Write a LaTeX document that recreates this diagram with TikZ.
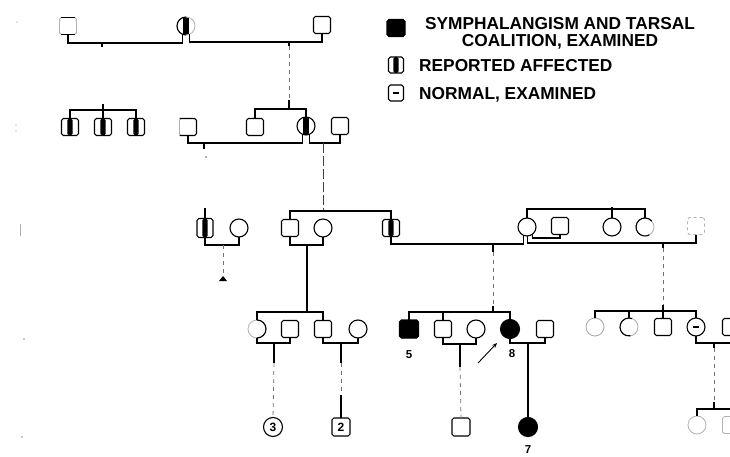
\documentclass[tikz,border=0pt]{standalone}
\usepackage{fontspec}
\setmainfont{Liberation Sans}
\usetikzlibrary{arrows.meta}
\begin{document}
\begin{tikzpicture}[x=1pt,y=-1pt,
  sym/.style={draw, line width=1.1pt, inner sep=0pt, outer sep=0pt},
  sq/.style={sym, rectangle, rounded corners=1.8pt, minimum width=17pt, minimum height=17pt},
  ci/.style={sym, circle, minimum size=18pt},
  aff/.style={fill=black},
  rep/.style={path picture={\fill[black] ([xshift=-2.6pt]path picture bounding box.south) rectangle ([xshift=2.6pt]path picture bounding box.north);}},
  normex/.style={path picture={\draw[line width=1.1pt] ([xshift=-3pt]path picture bounding box.center) -- ([xshift=3pt]path picture bounding box.center);}},
  ghost/.style={draw=black!30, line width=0.8pt},
  ln/.style={line width=1.1pt},
  faint/.style={line width=0.8pt, black!55, dash pattern=on 4pt off 4pt},
  num/.style={font=\bfseries\fontsize{11.5}{12}\selectfont, inner sep=0pt},
  inum/.style={font=\bfseries\fontsize{12}{12}\selectfont},
  leg/.style={font=\bfseries\fontsize{17.3}{17}\selectfont, inner sep=0pt},
  gdot/.style={fill=black!40}
]
\clip (0,0) rectangle (730,457);
\fill[white] (0,0) rectangle (730,457);

% faint generation marks
\fill[gdot] (17,22) circle (0.7pt);
\fill[gdot] (16,125) circle (0.6pt);
\fill[gdot] (16,131) circle (0.6pt);
\draw[black!30, line width=0.7pt] (20,224) -- (20,236);
\fill[gdot] (24,339) circle (0.8pt);
\fill[gdot] (22,437) circle (0.8pt);

% ---------- Generation I ----------
\node[sq, ghost] (i1) at (68,26) {};
\draw[ln] ([xshift=1.5pt]i1.north west) -- ([xshift=-1.5pt]i1.north east);
\draw[ln] ([xshift=1.5pt]i1.south west) -- ([xshift=-1.5pt]i1.south east);
\node[ci, ghost, rep] (i2) at (186,26) {};
\draw[ln] (i2.90) arc[start angle=90, end angle=270, radius=9pt];
\node[sq] (i3) at (322,25) {};
\draw[ln] (i1.south) |- (150,43) -| (i2.250);
\draw[ln] (i2.295) |- (250,42) -| (i3.south);
\coordinate (d1) at (102,43);
\draw[ln] (d1) -- ++(0,4);
\coordinate (d2) at (289,42);
\draw[ln] (d2) -- ++(0,4);
\draw[faint] (289,46) -- (289,100);

% ---------- Generation II ----------
\node[sq, rep] (ii1) at (70,127) {};
\node[sq, rep] (ii2) at (103,127) {};
\node[sq, rep] (ii3) at (136,127) {};
\draw[ln] (ii1.north) |- (103,110) -| (ii3.north);
\draw[ln] (ii2.north) -- (103,104);
\node[sq, ghost] (ii4) at (188,127) {};
\draw[ln, rounded corners=1.8pt] (ii4.north west) -- (ii4.north east) -- (ii4.south east) -- (ii4.south west);
\node[sq] (ii5) at (255,127) {};
\node[ci, rep] (ii6) at (306,126) {};
\node[sq] (ii7) at (340,126) {};
\draw[ln] (ii5.north) |- (289,109) -| (ii6.north);
\draw[ln] (289,100) -- (289,109);
\draw[ln] (ii4.south) |- (250,143) -| (ii6.250);
\draw[ln] (ii6.290) |- (323,143) -| (ii7.south);
\draw[ln] (204,143) -- (204,149);
\fill[black!60] (206,157) circle (0.8pt);
\draw[line width=0.9pt, black!75, dash pattern=on 10pt off 3pt] (323,143) -- (323,211);

% ---------- Generation III ----------
\node[sq, rep, minimum width=16pt, minimum height=19pt] (iii1) at (205,228) {};
\node[ci] (iii2) at (239,228) {};
\draw[ln] (iii1.north) -- (205,208);
\draw[ln] (iii1.south) |- (223,245) -| (iii2.south);
\draw[faint] (223,245) -- (223,274);
\fill (219,281) -- (227,281) -- (223,276) -- cycle;
\node[sq] (iii3) at (290,228) {};
\node[ci] (iii4) at (323,228) {};
\node[sq, rep] (iii5) at (391,228) {};
\draw[ln] (iii3.north) |- (323,211) -| (iii5.north);
\draw[ln] (iii3.south) |- (307,245) -| (iii4.south);
\draw[ln] (307,245) -- (307,312);
\node[ci] (iii6) at (527,227) {};
\node[sq] (iii7) at (560,226) {};
\node[ci] (iii8) at (612,227) {};
\node[ci, ghost] (iii9) at (645,227) {};
\draw[ln] (iii9.40) arc[start angle=40, end angle=300, radius=9pt];
\node[sq, ghost, dashed] (iii10) at (696,226) {};
\draw[ln] (iii6.north) |- (600,209) -| (iii9.north);
\draw[ln] (iii8.north) -- (612,207);
\draw[ln] (iii5.south) |- (460,244) -| (iii6.245);
\draw[ln] (iii6.308) |- (550,238) -| (iii7.south);
\draw[ln] (iii6.275) |- (650,243) -| (iii10.south);
\draw[ln] (493,244) -- (493,252);
\draw[faint] (493,252) -- (493,306);
\draw[ln] (663,243) -- (663,248);
\draw[faint] (663,248) -- (663,305);

% ---------- Generation IV ----------
\node[ci, ghost] (iv1) at (257,329) {};
\draw[ln] (iv1.90) arc[start angle=90, end angle=-90, radius=9pt];
\node[sq] (iv2) at (290,329) {};
\node[sq] (iv3) at (323,329) {};
\node[ci] (iv4) at (358,329) {};
\draw[ln] (iv1.north) |- (307,312) -| (iv3.north);
\draw[ln] (iv1.south) |- (274,343) -| (iv2.south);
\draw[ln] (iv3.south) |- (341,343) -| (iv4.south);

\node[sq, aff, minimum width=19pt, minimum height=18pt] (iv5) at (409,329) {};
\node[sq] (iv6) at (443,329) {};
\node[ci] (iv7) at (476,329) {};
\node[ci, aff, minimum size=19pt] (iv8) at (510,329) {};
\node[sq] (iv9) at (545,329) {};
\draw[ln] (iv5.north) |- (493,312) -| (iv8.north);
\draw[ln] (493,306) -- (493,312);
\draw[ln] (iv6.north) -- (443,312);
\draw[ln] (iv6.south) |- (460,344) -| (iv7.south);
\draw[ln] (iv8.south) |- (528,343) -| (iv9.south);
\node[num] (n5) at (409,355) {5};
\node[num] (n8) at (512,354) {8};
\coordinate (ar1) at (478,363);
\coordinate (ar2) at (497,343);
\draw[line width=0.9pt, -{Stealth[length=5pt,width=4pt]}] (ar1) -- (ar2);

\node[ci, draw=black!35, line width=0.8pt] (iv10) at (595,327) {};
\node[ci, ghost] (iv11) at (629,327) {};
\draw[ln] (iv11.70) arc[start angle=70, end angle=280, radius=9pt];
\node[sq] (iv12) at (663,327) {};
\node[ci, normex] (iv13) at (696,327) {};
\node[sq] (iv14) at (731,327) {};
\draw[ln] (iv10.north) |- (650,311) -| (iv13.north);
\draw[ln] (iv11.north) -- (629,311);
\draw[ln] (iv12.north) -- (663,305);
\draw[ln] (iv13.south) |- (714,343) -| (iv14.south);
\draw[ln] (714,343) -- (714,348);
\draw[faint] (714,348) -- (714,402);
\draw[ln] (714,402) -- (714,409);

% ---------- Generation V ----------
\node[ci, minimum size=19pt, inum] (v1) at (273,427) {3};
\node[sq, minimum width=18pt, minimum height=18pt, inum] (v2) at (341,427) {2};
\node[sq, minimum width=18pt, minimum height=18pt] (v3) at (461,427) {};
\node[ci, aff, minimum size=19pt] (v4) at (528,427) {};
\node[num] (n7) at (528,450) {7};
\node[ci, ghost] (v5) at (697,425) {};
\node[sq, ghost] (v6) at (731,425) {};
\draw[ln] (v5.north) |- (714,409) -| (v6.north);

\draw[ln] (274,343) -- (274,363);
\draw[faint] (274,363) -- (v1.north);
\draw[ln] (341,343) -- (341,363);
\draw[faint] (341,363) -- (341,395);
\draw[ln] (341,395) -- (v2.north);
\draw[ln] (460,344) -- (460,367);
\draw[faint] (460,367) -- (v3.north);
\draw[ln] (528,343) -- (v4.north);

% ---------- Legend ----------
\node[sq, aff, minimum width=18pt, minimum height=17pt] (l1) at (396,28) {};
\node[leg, align=center, anchor=north] (t1) at (560,16.8) {SYMPHALANGISM AND TARSAL\\COALITION, EXAMINED};
\node[sq, rep, minimum width=15pt, minimum height=16pt] (l2) at (396,65) {};
\node[leg, anchor=base west] (t2) at (419,71.2) {REPORTED AFFECTED};
\node[sq, normex, minimum width=15pt, minimum height=16pt] (l3) at (396,93) {};
\node[leg, anchor=base west] (t3) at (419,99.2) {NORMAL, EXAMINED};
\end{tikzpicture}
\end{document}
